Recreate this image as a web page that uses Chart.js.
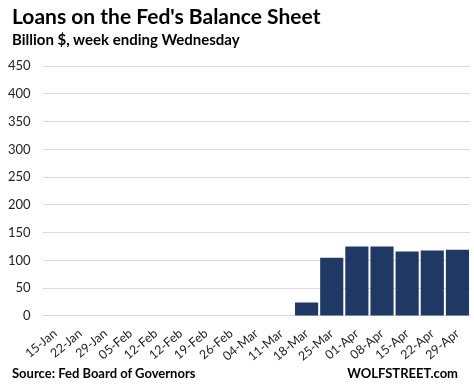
<!DOCTYPE html>
<html>
<head>
<meta charset="utf-8">
<script src="https://cdn.jsdelivr.net/npm/chart.js@4.4.1/dist/chart.umd.min.js"></script>
<style>
  html, body { margin: 0; padding: 0; background: #fff; }
  #wrap { position: relative; width: 474px; height: 388px; font-family: Lato, "Open Sans", sans-serif; }
  #c { position: absolute; left: 0; top: 0; }
  .txt { position: absolute; font-weight: bold; color: #000; white-space: nowrap; }
</style>
</head>
<body>
<div id="wrap">
  <canvas id="c" width="474" height="388"></canvas>
  <div class="txt" style="left:12px; top:3px; font-size:21px;">Loans on the Fed's Balance Sheet</div>
  <div class="txt" style="left:12px; top:30px; font-size:15px;">Billion $, week ending Wednesday</div>
  <div class="txt" style="left:12px; top:365px; font-size:13px;">Source: Fed Board of Governors</div>
  <div class="txt" style="right:16px; top:365px; font-size:13px;">WOLFSTREET.com</div>
</div>
<script>
const categories = ["15-Jan","22-Jan","29-Jan","05-Feb","12-Feb","12-Feb","19-Feb","26-Feb","04-Mar","11-Mar","18-Mar","25-Mar","01-Apr","08-Apr","15-Apr","22-Apr","29-Apr"];
const loans = [0,0,0,0,0,0,0,0,0,0,24,105,125,125,116,118,119];
const yTicks = [0,50,100,150,200,250,300,350,400,450];

new Chart(document.getElementById('c'), {
  type: 'bar',
  data: {
    labels: categories,
    datasets: [{
      data: loans,
      backgroundColor: '#1f3864',
      borderWidth: 0,
      barPercentage: 0.92,
      categoryPercentage: 1.0
    }]
  },
  options: {
    responsive: false,
    animation: false,
    layout: { padding: { top: 66, right: 4, left: 4, bottom: 22 } },
    plugins: { legend: { display: false }, tooltip: { enabled: false } },
    scales: {
      x: {
        grid: { display: false },
        border: { color: '#d9d9d9' },
        ticks: { color: '#222', font: { family: 'Lato', size: 12.5 }, minRotation: 40, maxRotation: 40, autoSkip: false, padding: 2 }
      },
      y: {
        min: 0, max: 450,
        afterBuildTicks: (axis) => { axis.ticks = yTicks.map(v => ({ value: v })); },
        grid: { color: '#d9d9d9', drawTicks: true, tickLength: 8, tickColor: '#fff' },
        border: { display: false },
        ticks: { color: '#222', font: { family: 'Lato', size: 13 }, padding: 4 }
      }
    }
  }
});
</script>
</body>
</html>
